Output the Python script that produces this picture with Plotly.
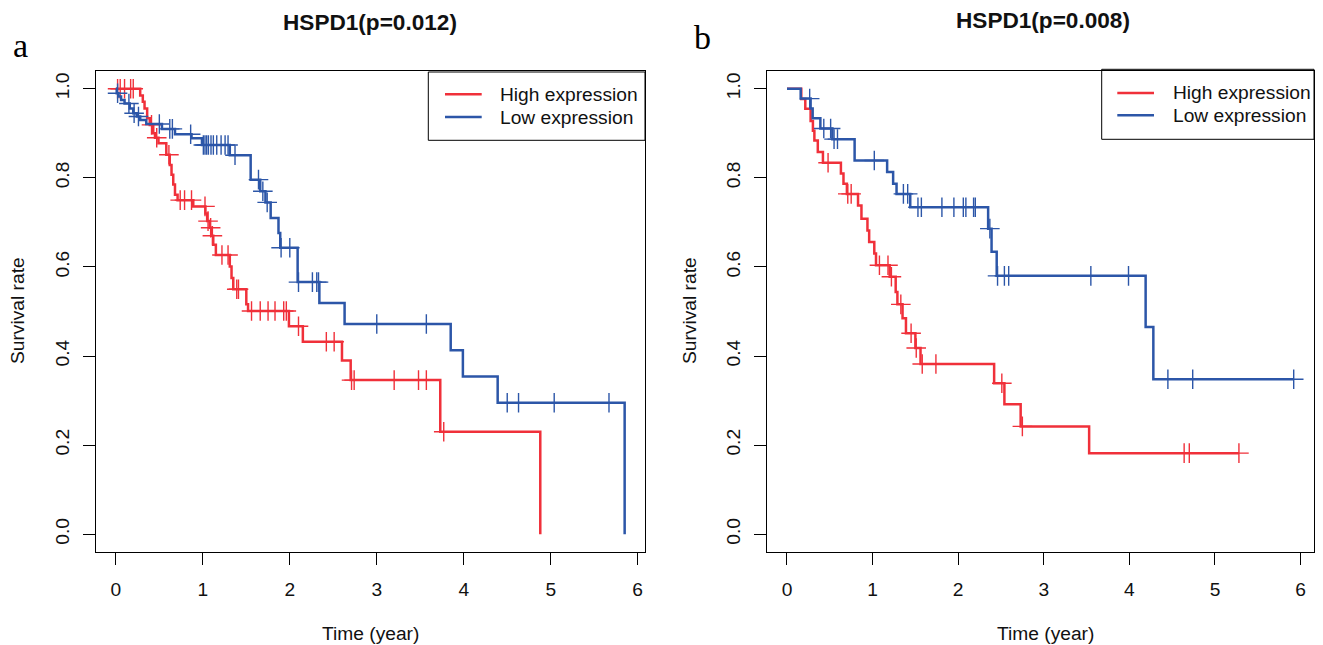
import numpy as np
import plotly.graph_objects as go

# ---------------- data ----------------
# Panel a : HSPD1 (p=0.012)
a_high_t = [0.28, 0.31, 0.33, 0.36, 0.39, 0.43, 0.45, 0.49, 0.58, 0.62, 0.64, 0.66, 0.68, 0.71,
            0.89, 1.03, 1.05, 1.08, 1.10, 1.12, 1.15, 1.31, 1.33, 1.35, 1.50, 1.52, 1.99, 2.15,
            2.60, 2.70, 3.73, 4.88]
a_high_s = [0.985, 0.971, 0.956, 0.934, 0.919, 0.900, 0.890, 0.878, 0.852, 0.829, 0.807, 0.785,
            0.762, 0.750, 0.736, 0.720, 0.703, 0.688, 0.670, 0.650, 0.627, 0.601, 0.575, 0.550,
            0.516, 0.501, 0.467, 0.432, 0.390, 0.346, 0.230, 0.0]
a_high_c = [0.02, 0.05, 0.10, 0.17, 0.20, 0.41, 0.47, 0.61, 0.74, 0.79, 0.87, 1.025, 1.06, 1.09,
            1.11, 1.22, 1.29, 1.39, 1.41, 1.56, 1.66, 1.75, 1.83, 1.93, 1.96, 2.10, 2.42, 2.51,
            2.71, 2.74, 3.20, 3.48, 3.57, 3.77]

a_low_t = [0.01, 0.03, 0.06, 0.10, 0.16, 0.20, 0.24, 0.28, 0.35, 0.53, 0.68, 0.87, 0.99, 1.31,
           1.55, 1.66, 1.72, 1.78, 1.87, 1.89, 2.09, 2.34, 2.63, 3.85, 3.99, 4.39, 5.85]
a_low_s = [0.990, 0.983, 0.975, 0.967, 0.956, 0.945, 0.938, 0.930, 0.921, 0.910, 0.898, 0.889,
           0.874, 0.851, 0.796, 0.770, 0.745, 0.710, 0.676, 0.643, 0.566, 0.519, 0.472, 0.413,
           0.354, 0.295, 0.0]
a_low_c = [0.02, 0.15, 0.21, 0.26, 0.50, 0.62, 0.65, 0.86, 1.006, 1.025, 1.044, 1.064, 1.094,
           1.121, 1.16, 1.21, 1.256, 1.29, 1.37, 1.64, 1.69, 1.74, 1.90, 2.00, 2.10, 2.26, 2.31,
           2.33, 3.00, 3.57, 4.50, 4.63, 5.04, 5.67]

# Panel b : HSPD1 (p=0.008)
b_high_t = [0.167, 0.214, 0.276, 0.303, 0.32, 0.36, 0.42, 0.63, 0.66, 0.70, 0.83, 0.87, 0.94,
            0.96, 1.02, 1.04, 1.20, 1.27, 1.29, 1.35, 1.39, 1.50, 1.56, 2.42, 2.54, 2.73, 3.53]
b_high_s = [0.977, 0.955, 0.928, 0.906, 0.884, 0.858, 0.834, 0.810, 0.787, 0.764, 0.738, 0.708,
            0.682, 0.656, 0.630, 0.604, 0.578, 0.544, 0.516, 0.485, 0.451, 0.418, 0.382, 0.339,
            0.292, 0.242, 0.182]
b_high_c = [0.48, 0.71, 0.75, 1.08, 1.18, 1.22, 1.33, 1.45, 1.51, 1.58, 1.74, 2.51, 2.75, 4.64,
            4.70, 5.28]

b_low_t = [0.16, 0.276, 0.30, 0.39, 0.53, 0.79, 1.17, 1.24, 1.28, 1.44, 2.35, 2.39, 2.45, 4.19,
           4.28]
b_low_s = [0.978, 0.956, 0.934, 0.911, 0.887, 0.839, 0.813, 0.787, 0.764, 0.734, 0.686, 0.634,
           0.580, 0.465, 0.348]
b_low_c = [0.265, 0.43, 0.51, 0.55, 0.59, 1.02, 1.36, 1.41, 1.53, 1.57, 1.81, 1.95, 2.06, 2.09,
           2.18, 2.20, 2.37, 2.46, 2.54, 2.59, 3.55, 3.99, 4.45, 4.74, 5.92]

titles = ["HSPD1(p=0.012)", "HSPD1(p=0.008)"]
series_names = ["High expression", "Low expression"]
x_ticks = [0, 1, 2, 3, 4, 5, 6]
y_ticks = [0.0, 0.2, 0.4, 0.6, 0.8, 1.0]
y_ticktext = ["0.0", "0.2", "0.4", "0.6", "0.8", "1.0"]

RED = "#F0303A"
BLUE = "#2C56A8"
OFF = 8                       # default page (body) margin
W, H = 1323 - OFF, 645 - OFF  # figure size so that it ends at the window edge
FONT = "Liberation Sans, Arial, sans-serif"
FS = 19.2


def px(x):
    """window pixel x -> paper coordinate"""
    return (x - OFF) / W


def py(y):
    """window pixel y -> paper coordinate"""
    return 1 - (y - OFF) / H


def step_xy(times, surv, censor):
    t_end = max(max(times), max(censor))
    xs = [0.0] + list(times)
    ys = [1.0] + list(surv)
    if xs[-1] < t_end:
        xs.append(t_end)
        ys.append(ys[-1])
    return xs, ys


def surv_at(times, surv, c):
    idx = np.searchsorted(np.array(times), np.array(c), side="right")
    vals = np.concatenate([[1.0], np.array(surv)])
    return vals[idx]


fig = go.Figure()
panels = [
    ("x", "y", [(a_high_t, a_high_s, a_high_c, RED), (a_low_t, a_low_s, a_low_c, BLUE)]),
    ("x2", "y2", [(b_high_t, b_high_s, b_high_c, RED), (b_low_t, b_low_s, b_low_c, BLUE)]),
]
for xa, ya, groups in panels:
    for (t, s, c, col), name in zip(groups, series_names):
        xs, ys = step_xy(t, s, c)
        fig.add_trace(go.Scatter(x=xs, y=ys, mode="lines", line=dict(color=col, width=2.5, shape="hv"),
                                 name=name, xaxis=xa, yaxis=ya, showlegend=False, hoverinfo="skip"))
        fig.add_trace(go.Scatter(x=c, y=surv_at(t, s, c), mode="markers",
                                 marker=dict(symbol="cross-thin", size=14, line=dict(color=col, width=1.4)),
                                 xaxis=xa, yaxis=ya, showlegend=False, hoverinfo="skip"))

ax_common = dict(showline=True, linecolor="black", linewidth=1, mirror=True, showgrid=False,
                 zeroline=False, ticks="outside", ticklen=12, tickwidth=1, tickcolor="black",
                 tickfont=dict(family=FONT, size=FS, color="#111"))
ydom = [py(552), py(71)]
fig.update_layout(
    width=W, height=H, margin=dict(l=0, r=0, t=0, b=0),
    paper_bgcolor="white", plot_bgcolor="white", showlegend=False,
    xaxis=dict(domain=[px(95.5), px(645)], range=[-0.234, 6.084], tickvals=x_ticks,
               ticklabelstandoff=8, **ax_common),
    yaxis=dict(domain=ydom, range=[-0.04, 1.04], tickvals=y_ticks, ticktext=y_ticktext,
               tickangle=-90, ticklabelstandoff=6, **ax_common),
    xaxis2=dict(domain=[px(766.7), px(1314)], range=[-0.237, 6.157], tickvals=x_ticks,
                ticklabelstandoff=8, anchor="y2", **ax_common),
    yaxis2=dict(domain=ydom, range=[-0.04, 1.04], tickvals=y_ticks, ticktext=y_ticktext,
                tickangle=-90, ticklabelstandoff=6, anchor="x2", **ax_common),
)

ann = []
shapes = []
# titles
for txt, cx, cy in [(titles[0], 370, 22), (titles[1], 1043, 20)]:
    ann.append(dict(text="<b>" + txt + "</b>", x=px(cx), y=py(cy), xref="paper", yref="paper",
                    xanchor="center", yanchor="middle", showarrow=False,
                    font=dict(family=FONT, size=22.6, color="#111")))
# panel letters
for txt, cx, cy in [("a", 20, 45), ("b", 702, 38)]:
    ann.append(dict(text=txt, x=px(cx), y=py(cy), xref="paper", yref="paper", xanchor="center",
                    yanchor="middle", showarrow=False,
                    font=dict(family="Liberation Serif, Times New Roman, serif", size=34, color="black")))
# axis titles
for cx in [370, 1045]:
    ann.append(dict(text="Time (year)", x=px(cx), y=py(633), xref="paper", yref="paper",
                    xanchor="center", yanchor="middle", showarrow=False,
                    font=dict(family=FONT, size=FS, color="#111")))
for cx in [17, 689]:
    ann.append(dict(text="Survival rate", x=px(cx), y=py(311), xref="paper", yref="paper",
                    xanchor="center", yanchor="middle", showarrow=False, textangle=-90,
                    font=dict(family=FONT, size=FS, color="#111")))
# legends
for (x0, x1, y0, y1, lx0, lx1, ly1, ly2, tx) in [
        (428.3, 645, 72, 140.3, 445, 481.7, 94.3, 117, 498),
        (1101.7, 1314, 69.3, 139.3, 1117.3, 1154, 93, 115.3, 1170.7)]:
    shapes.append(dict(type="rect", xref="paper", yref="paper", x0=px(x0), x1=px(x1),
                       y0=py(y1), y1=py(y0), line=dict(color="black", width=1), fillcolor="white",
                       layer="below"))
    for ly, col, name in [(ly1, RED, series_names[0]), (ly2, BLUE, series_names[1])]:
        shapes.append(dict(type="line", xref="paper", yref="paper", x0=px(lx0), x1=px(lx1),
                           y0=py(ly), y1=py(ly), line=dict(color=col, width=2.5)))
        ann.append(dict(text=name, x=px(tx), y=py(ly), xref="paper", yref="paper", xanchor="left",
                        yanchor="middle", showarrow=False,
                        font=dict(family=FONT, size=FS, color="#111")))

fig.update_layout(annotations=ann, shapes=shapes)
fig.write_html("out.html")
